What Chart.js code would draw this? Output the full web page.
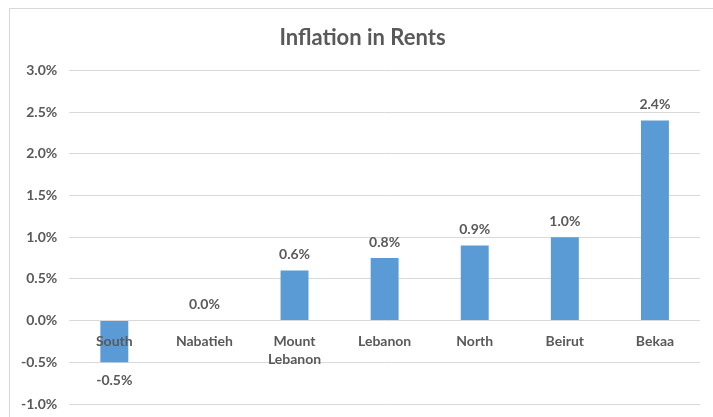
<!DOCTYPE html>
<html>
<head>
<meta charset="utf-8">
<script src="https://cdn.jsdelivr.net/npm/chart.js@4"></script>
<style>
  html, body { margin: 0; padding: 0; background: #fff; }
  #wrap { position: relative; width: 713px; height: 417px; }
</style>
</head>
<body>
<div id="wrap"><canvas id="cadre"></canvas></div>
<script>
// data
const regions = ["South", "Nabatieh", ["Mount", "Lebanon"], "Lebanon", "North", "Beirut", "Bekaa"];
const rentInflation = [-0.5, 0.0, 0.6, 0.75, 0.9, 1.0, 2.4];
const yTicks = [-1.0, -0.5, 0.0, 0.5, 1.0, 1.5, 2.0, 2.5, 3.0];

const textGrey = "#595959";
const fontName = "Lato, 'Liberation Sans', sans-serif";

// outer chart frame, like the Excel chart border
const frame = {
  id: "frame",
  afterLayout(chart) {
    // excel centres the title a little right of the canvas middle
    if (chart.titleBlock) {
      chart.titleBlock.left += 8;
      chart.titleBlock.right += 8;
    }
  },
  beforeDraw(chart) {
    const c = chart.ctx;
    c.save();
    c.strokeStyle = "#d9d9d9";
    c.lineWidth = 1;
    c.strokeRect(9.5, 8.5, 720, 420);
    c.restore();
  }
};

// value labels above (or below) each bar
const valueLabels = {
  id: "valueLabels",
  afterDatasetsDraw(chart) {
    const c = chart.ctx;
    const meta = chart.getDatasetMeta(0);
    c.save();
    c.font = "bold 14px " + fontName;
    c.fillStyle = textGrey;
    c.textAlign = "center";
    c.textBaseline = "middle";
    meta.data.forEach((bar, i) => {
      const v = rentInflation[i];
      const y = v < 0 ? bar.y + 18 : bar.y - 16;
      c.fillText(v.toFixed(1) + "%", bar.x, y);
    });
    c.restore();
  }
};

const ctx = document.getElementById("cadre").getContext("2d");

new Chart(ctx, {
  type: "bar",
  data: {
    labels: regions,
    datasets: [{
      label: "Inflation in Rents",
      data: rentInflation,
      backgroundColor: "#5b9bd5",
      borderWidth: 0,
      barPercentage: 0.31,
      categoryPercentage: 1.0
    }]
  },
  options: {
    responsive: true,
    maintainAspectRatio: false,
    animation: false,
    layout: { padding: { left: 9, right: 13, top: 0, bottom: 13 } },
    plugins: {
      legend: { display: false },
      tooltip: { enabled: false },
      title: {
        display: true,
        text: "Inflation in Rents",
        color: textGrey,
        font: { family: fontName, size: 22, weight: "bold" },
        padding: { top: 25, bottom: 19 }
      }
    },
    scales: {
      x: {
        position: { y: 0 },
        grid: { display: false },
        border: { display: false },
        ticks: {
          z: 1, // labels sit on top of the South bar
          color: textGrey,
          font: { family: fontName, size: 14, weight: "bold", lineHeight: 1.3 },
          padding: 4,
          maxRotation: 0
        }
      },
      y: {
        min: -1.0,
        max: 3.0,
        afterBuildTicks(scale) {
          scale.ticks = yTicks.map(v => ({ value: v }));
        },
        afterFit(scale) {
          scale.paddingBottom = 0;
        },
        grid: { color: "#d9d9d9", drawTicks: false },
        border: { display: false },
        ticks: {
          color: textGrey,
          font: { family: fontName, size: 14, weight: "bold" },
          padding: 12,
          callback: v => v.toFixed(1) + "%"
        }
      }
    }
  },
  plugins: [frame, valueLabels]
});
</script>
</body>
</html>
